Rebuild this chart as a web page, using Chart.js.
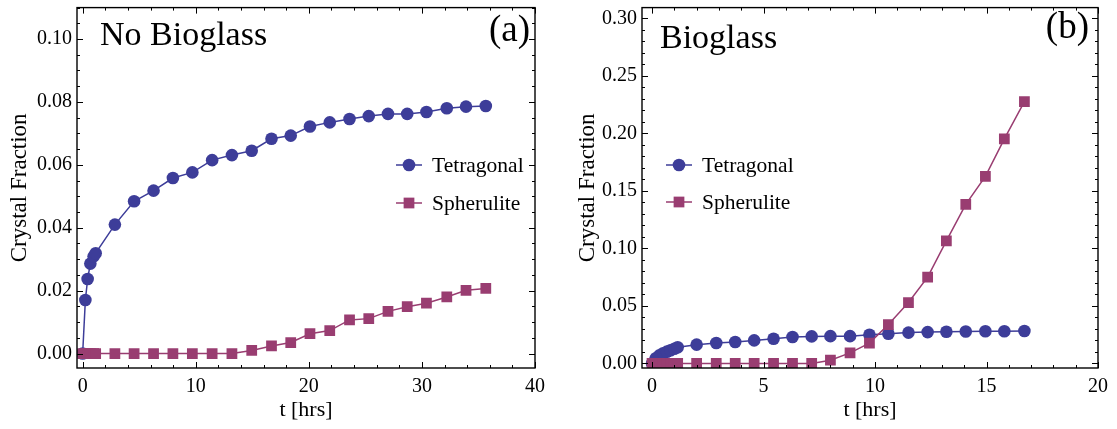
<!DOCTYPE html>
<html>
<head>
<meta charset="utf-8">
<script src="https://cdn.jsdelivr.net/npm/chart.js@4.4.1/dist/chart.umd.min.js"></script>
<style>
  body { margin: 0; background: #fff; }
  .panel { position: absolute; top: 0; }
</style>
</head>
<body>
<div class="panel" style="left:0"><canvas id="chartA" width="558" height="429"></canvas></div>
<div class="panel" style="left:558px"><canvas id="chartB" width="559" height="429"></canvas></div>
<script>
// === DATA: panel (a) No Bioglass ===
const timeA = [0, 0.24, 0.44, 0.68, 0.97, 1.15, 2.85, 4.55, 6.27, 7.98, 9.7, 11.45, 13.2,
  14.95, 16.7, 18.4, 20.1, 21.85, 23.6, 25.3, 27.0, 28.7, 30.4, 32.2, 33.9, 35.65];
const tetragonalA = [0, 0.0170, 0.0237, 0.0286, 0.0309, 0.0319, 0.0410, 0.0484, 0.0518, 0.0558, 0.0576, 0.0615, 0.0631,
  0.0645, 0.0683, 0.0693, 0.0722, 0.0735, 0.0746, 0.0755, 0.0762, 0.0762, 0.0768, 0.0780, 0.0785, 0.0787];
const spheruliteA = [0, 0, 0, 0, 0, 0, 0, 0, 0, 0, 0, 0, 0,
  0.0010, 0.0024, 0.0035, 0.0063, 0.0073, 0.0107, 0.0111, 0.0134, 0.0149, 0.0160, 0.0180, 0.0201, 0.0207];
const xTicksA = [0, 10, 20, 30, 40];
const yTicksA = [0, 0.02, 0.04, 0.06, 0.08, 0.10];

// === DATA: panel (b) Bioglass ===
const timeB = [0, 0.17, 0.33, 0.5, 0.67, 0.83, 1.0, 1.15, 2.0, 2.88, 3.73, 4.58, 5.45, 6.3, 7.16,
  8.0, 8.88, 9.75, 10.6, 11.5, 12.36, 13.2, 14.07, 14.95, 15.8, 16.7];
const tetragonalB = [0, 0.0045, 0.0070, 0.0088, 0.0102, 0.0115, 0.0128, 0.0140, 0.0163, 0.0177, 0.0186, 0.0200, 0.0215, 0.0229, 0.0235,
  0.0237, 0.0237, 0.0249, 0.0258, 0.0268, 0.0272, 0.0275, 0.0278, 0.0280, 0.0280, 0.0282];
const spheruliteB = [0, 0, 0, 0, 0, 0, 0, 0, 0, 0, 0, 0, 0, 0, 0,
  0.0028, 0.0091, 0.0177, 0.0338, 0.0529, 0.0750, 0.1065, 0.1383, 0.1626, 0.1953, 0.2277];
const xTicksB = [0, 5, 10, 15, 20];
const yTicksB = [0, 0.05, 0.10, 0.15, 0.20, 0.25, 0.30];

const seriesNames = ['Tetragonal', 'Spherulite'];

// === STYLE ===
const BLUE = '#3d3d99';
const PURPLE = '#993d71';
const SERIF = "'Liberation Serif', 'DejaVu Serif', serif";

const toPoints = (xs, ys) => xs.map((x, i) => ({ x, y: ys[i] }));

function makeDatasets(t, tet, sph) {
  return [
    {
      label: seriesNames[0], data: toPoints(t, tet), showLine: true,
      borderColor: BLUE, backgroundColor: BLUE, borderWidth: 1.5,
      pointStyle: 'circle', pointRadius: 6.3, pointBorderWidth: 0, order: 1,
    },
    {
      label: seriesNames[1], data: toPoints(t, sph), showLine: true,
      borderColor: PURPLE, backgroundColor: PURPLE, borderWidth: 1.5,
      pointStyle: 'rect', pointRadius: 7.6, pointBorderWidth: 0, order: 0,
    },
  ];
}

// frame + inward ticks on all four sides, like the original
const framePlugin = {
  id: 'frame',
  afterDatasetsDraw(chart, args, o) {
    const { ctx, chartArea: a, scales: { x, y } } = chart;
    ctx.save();
    ctx.strokeStyle = '#000';
    ctx.lineWidth = 1.4;
    ctx.strokeRect(a.left, a.top, a.right - a.left, a.bottom - a.top);
    ctx.lineWidth = 1;
    const near = (v, s) => Math.abs(v / s - Math.round(v / s)) < 1e-6;
    ctx.beginPath();
    for (let v = Math.ceil(x.min / o.xMinor) * o.xMinor; v <= x.max + 1e-9; v += o.xMinor) {
      const px = Math.round(x.getPixelForValue(v)) + 0.5;
      const len = near(v, o.xMajor) ? 6 : 3;
      ctx.moveTo(px, a.bottom); ctx.lineTo(px, a.bottom - len);
      ctx.moveTo(px, a.top); ctx.lineTo(px, a.top + len);
    }
    for (let v = Math.ceil(y.min / o.yMinor) * o.yMinor; v <= y.max + 1e-9; v += o.yMinor) {
      const py = Math.round(y.getPixelForValue(v)) + 0.5;
      const len = near(v, o.yMajor) ? 6 : 3;
      ctx.moveTo(a.left, py); ctx.lineTo(a.left + len, py);
      ctx.moveTo(a.right, py); ctx.lineTo(a.right - len, py);
    }
    ctx.stroke();
    ctx.restore();
  }
};

// panel title, panel letter and the in-plot legend
const notesPlugin = {
  id: 'notes',
  afterDraw(chart, args, o) {
    const { ctx } = chart;
    ctx.save();
    ctx.fillStyle = '#000';
    ctx.font = '34px ' + SERIF;
    ctx.textBaseline = 'alphabetic';
    ctx.textAlign = 'left';
    ctx.fillText(o.title, o.titleX, o.titleY);
    ctx.font = '37px ' + SERIF;
    ctx.textAlign = 'right';
    ctx.fillText(o.letter, o.letterX, o.letterY);

    ctx.font = '21.5px ' + SERIF;
    ctx.textAlign = 'left';
    ctx.textBaseline = 'middle';
    chart.data.datasets.forEach((ds, i) => {
      const ly = o.legendY[i];
      ctx.strokeStyle = ds.borderColor;
      ctx.lineWidth = 1.5;
      ctx.beginPath();
      ctx.moveTo(o.legendX, ly); ctx.lineTo(o.legendX + 26, ly);
      ctx.stroke();
      ctx.fillStyle = ds.backgroundColor;
      Chart.helpers.drawPoint(ctx, { pointStyle: ds.pointStyle, radius: ds.pointRadius, borderWidth: 0 }, o.legendX + 13, ly);
      ctx.fillStyle = '#000';
      ctx.fillText(ds.label, o.legendX + 36, ly + 1);
    });
    ctx.restore();
  }
};

function makeChart(id, cfg) {
  const tickFont = { family: SERIF, size: 20 };
  return new Chart(document.getElementById(id), {
    type: 'scatter',
    data: { datasets: makeDatasets(cfg.t, cfg.tet, cfg.sph) },
    plugins: [framePlugin, notesPlugin],
    options: {
      responsive: false,
      animation: false,
      layout: { padding: { top: 3, right: cfg.padRight, left: 0, bottom: 0 } },
      plugins: {
        legend: { display: false },
        tooltip: { enabled: false },
        frame: cfg.frame,
        notes: cfg.notes,
      },
      scales: {
        x: {
          type: 'linear', min: cfg.xMin, max: cfg.xMax,
          grid: { display: false, drawTicks: false },
          border: { display: false },
          afterBuildTicks: s => { s.ticks = cfg.xTicks.map(v => ({ value: v })); },
          afterFit: s => { s.height = 61; s.paddingLeft = 0; s.paddingRight = 0; },
          ticks: { color: '#000', font: tickFont, padding: 7, maxRotation: 0, callback: v => String(v) },
          title: { display: true, text: 't [hrs]', color: '#000', font: { family: SERIF, size: 22 }, padding: { top: 6, bottom: 6 } },
        },
        y: {
          type: 'linear', min: cfg.yMin, max: cfg.yMax,
          grid: { display: false, drawTicks: false },
          border: { display: false },
          afterBuildTicks: s => { s.ticks = cfg.yTicks.map(v => ({ value: v })); },
          afterFit: s => { s.width = cfg.yWidth; s.paddingTop = 0; s.paddingBottom = 0; },
          ticks: { color: '#000', font: tickFont, padding: 5, callback: v => v.toFixed(2) },
          title: { display: true, text: 'Crystal Fraction', color: '#000', font: { family: SERIF, size: 23 }, padding: { top: cfg.yTitlePad, bottom: 0 } },
        },
      },
    },
  });
}

makeChart('chartA', {
  t: timeA, tet: tetragonalA, sph: spheruliteA,
  xMin: -0.5, xMax: 40, yMin: -0.0046, yMax: 0.110,
  xTicks: xTicksA, yTicks: yTicksA,
  yWidth: 77, padRight: 23, yTitlePad: 6,
  frame: { xMajor: 10, xMinor: 2, yMajor: 0.02, yMinor: 0.005 },
  notes: { title: 'No Bioglass', titleX: 100, titleY: 45, letter: '(a)', letterX: 530, letterY: 41,
           legendX: 396, legendY: [165, 203] },
});

makeChart('chartB', {
  t: timeB, tet: tetragonalB, sph: spheruliteB,
  xMin: -0.45, xMax: 20, yMin: -0.004, yMax: 0.3094,
  xTicks: xTicksB, yTicks: yTicksB,
  yWidth: 84, padRight: 19, yTitlePad: 16,
  frame: { xMajor: 5, xMinor: 1, yMajor: 0.05, yMinor: 0.01 },
  notes: { title: 'Bioglass', titleX: 102, titleY: 48, letter: '(b)', letterX: 531, letterY: 38,
           legendX: 108, legendY: [165, 202] },
});
</script>
</body>
</html>
